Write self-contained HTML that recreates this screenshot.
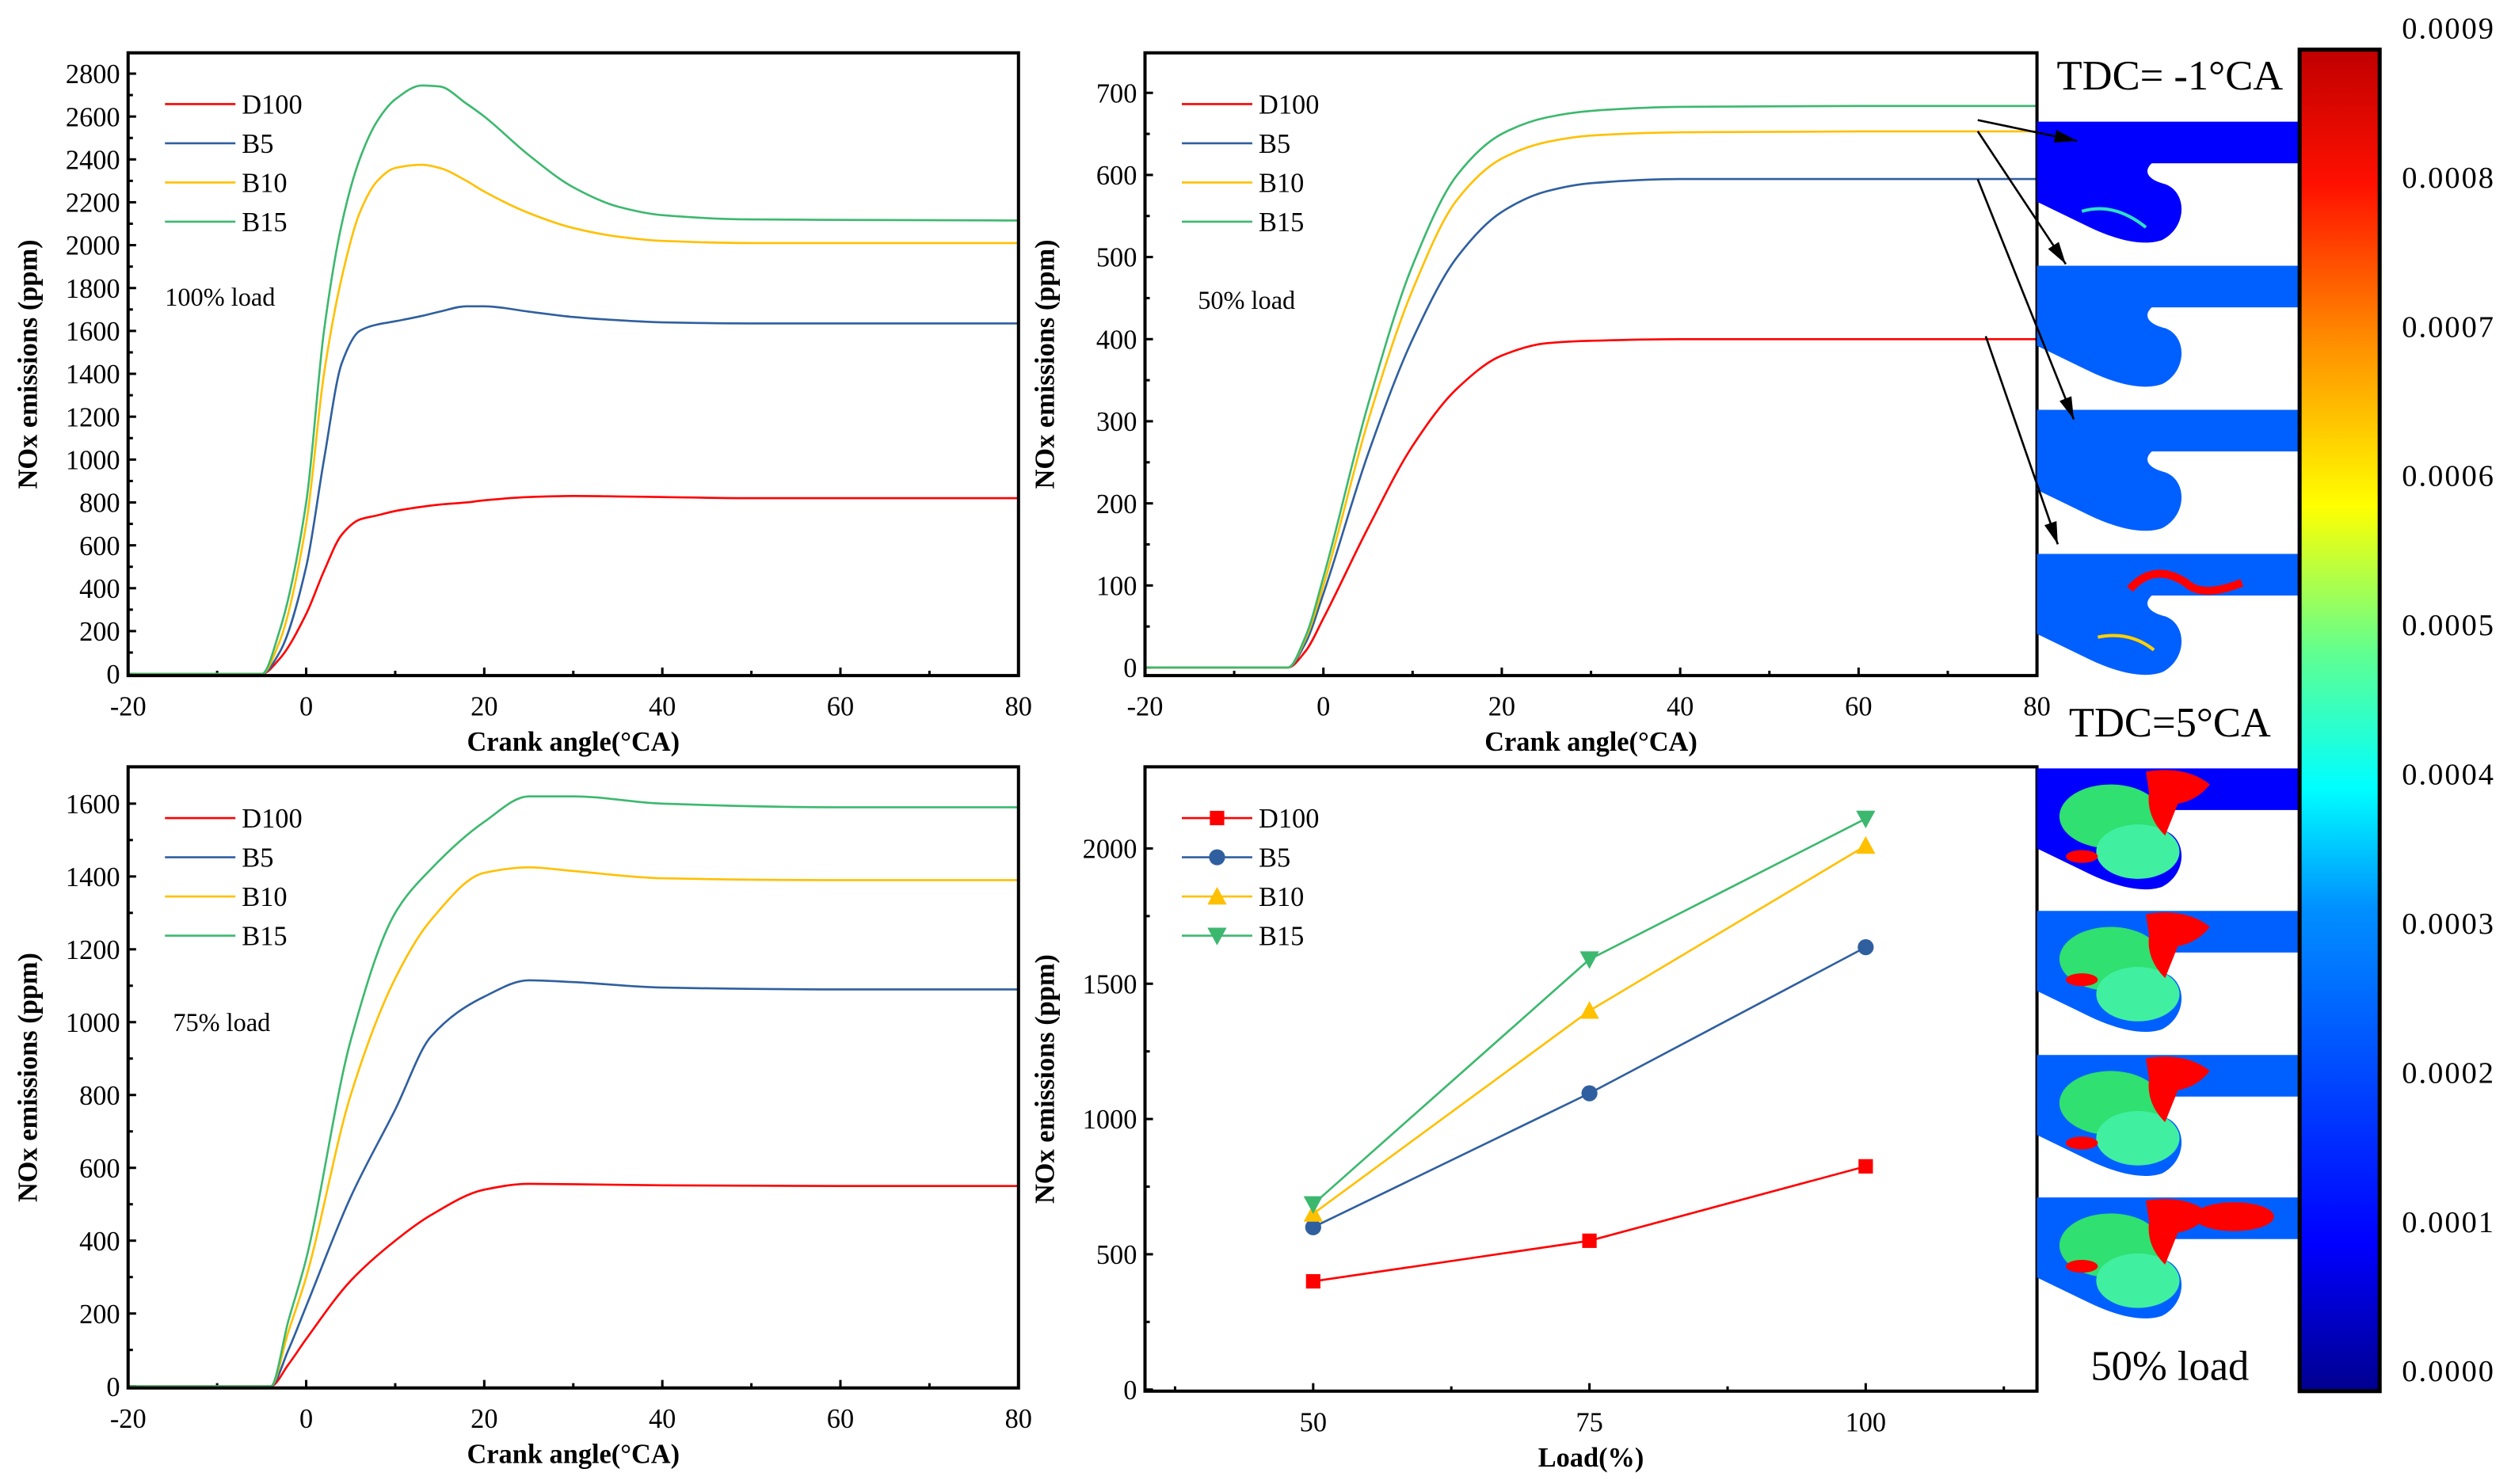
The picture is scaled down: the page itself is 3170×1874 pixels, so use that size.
<!DOCTYPE html>
<html><head><meta charset="utf-8"><style>
html,body{margin:0;padding:0;background:#fff;}
svg{display:block;font-family:"Liberation Serif",serif;}
</style></head><body>
<svg id="fig" width="3170" height="1874" viewBox="0 0 1568 927" preserveAspectRatio="none" xmlns="http://www.w3.org/2000/svg">
<defs>
<linearGradient id="jet" x1="0" y1="1" x2="0" y2="0">
<stop offset="0" stop-color="#00008f"/><stop offset="0.11" stop-color="#0000ff"/><stop offset="0.36" stop-color="#0090ff"/><stop offset="0.45" stop-color="#00ffff"/><stop offset="0.55" stop-color="#60ff90"/><stop offset="0.66" stop-color="#ffff00"/><stop offset="0.78" stop-color="#ff9000"/><stop offset="0.9" stop-color="#ff1000"/><stop offset="1" stop-color="#c00000"/>
</linearGradient>
</defs>
</svg>
<script>
const NS="http://www.w3.org/2000/svg";
const svg=document.getElementById('fig');
const seriesNames=["D100","B5","B10","B15"];
const seriesColors=["#ff0000","#2f5f9f","#ffc000","#3cb86e"];
// Plot A: 100% load
const aX=[-20,-5,-3,0,2,4,6,8,10,13,15,18,20,25,30,35,40,50,60,80];
const aD100=[0,0,70,280,480,650,720,740,760,780,790,800,810,825,830,828,825,820,820,820];
const aB5=[0,0,100,500,1000,1450,1600,1630,1645,1670,1690,1715,1715,1690,1665,1650,1640,1635,1635,1635];
const aB10=[0,0,150,700,1400,1850,2150,2300,2360,2375,2360,2300,2250,2150,2080,2040,2020,2010,2010,2010];
const aB15=[0,0,200,800,1600,2100,2400,2580,2680,2745,2740,2660,2600,2420,2270,2180,2140,2120,2118,2115];
// Plot B: 50% load
const bX=[-20,-4,-2,0,5,10,15,20,25,30,40,60,80];
const bD100=[0,0,20,60,170,270,340,380,395,398,400,400,400];
const bB5=[0,0,30,90,260,400,500,555,580,590,595,595,595];
const bB10=[0,0,35,100,300,460,570,620,640,648,652,653,653];
const bB15=[0,0,38,110,320,490,600,650,670,678,683,684,684];
// Plot C: 75% load
const cX=[-20,-4,-2,0,5,10,14,20,25,30,40,60,80];
const cD100=[0,0,60,130,290,400,470,540,556,555,552,550,550];
const cB5=[0,0,100,220,520,760,960,1070,1115,1110,1095,1090,1090];
const cB10=[0,0,150,300,800,1120,1280,1410,1425,1415,1395,1390,1390];
const cB15=[0,0,180,350,950,1300,1420,1550,1620,1620,1600,1590,1590];
// Plot D: load summary
const dLoads=[50,75,100];
const dD100=[400,550,825];
const dB5=[600,1095,1635];
const dB10=[650,1400,2010];
const dB15=[685,1590,2110];
const dYTicks=[0,500,1000,1500,2000];

function el(tag,attrs,parent){const e=document.createElementNS(NS,tag);for(const k in attrs)e.setAttribute(k,attrs[k]);(parent||svg).appendChild(e);return e;}
function txt(s,attrs,parent){const t=el('text',attrs,parent);t.textContent=s;return t;}
function lin(d0,d1,r0,r1){return v=>r0+(v-d0)*(r1-r0)/(d1-d0);}
// monotone cubic (Fritsch-Carlson) in pixel space
function smooth(pts){
  const n=pts.length,dx=[],m=[],t=[];
  for(let i=0;i<n-1;i++){dx[i]=pts[i+1][0]-pts[i][0];m[i]=(pts[i+1][1]-pts[i][1])/dx[i];}
  t[0]=m[0];t[n-1]=m[n-2];
  for(let i=1;i<n-1;i++){ if(m[i-1]*m[i]<=0) t[i]=0; else {const w1=2*dx[i]+dx[i-1],w2=dx[i]+2*dx[i-1];t[i]=(w1+w2)/(w1/m[i-1]+w2/m[i]);} }
  let d="M"+pts[0][0]+","+pts[0][1];
  for(let i=0;i<n-1;i++){const h=dx[i]/3;
    d+=" C"+(pts[i][0]+h)+","+(pts[i][1]+t[i]*h)+" "+(pts[i+1][0]-h)+","+(pts[i+1][1]-t[i+1]*h)+" "+pts[i+1][0]+","+pts[i+1][1];}
  return d;
}

function panel(o){
  const g=el('g',{});
  
  
  const sx=lin(o.xd[0],o.xd[1],o.L,o.R), sy=lin(0,o.ys[0],o.y0,o.ys[1]);
  o.yt.forEach(v=>{const y=sy(v);el('line',{x1:o.L,x2:o.L+5,y1:y,y2:y,stroke:'#000','stroke-width':1.5},g);
    const t=txt(String(v),{x:o.L-5,y:y+6,'text-anchor':'end','font-size':17},g);
    });
  o.ymin.forEach(v=>{const y=sy(v);el('line',{x1:o.L,x2:o.L+3,y1:y,y2:y,stroke:'#000','stroke-width':1.5},g);});
  o.xt.forEach((v,i)=>{const x=sx(v);el('line',{x1:x,x2:x,y1:o.B,y2:o.B-5,stroke:'#000','stroke-width':1.5},g);
    const t=txt(String(v),{x:x,y:o.B+25,'text-anchor':'middle','font-size':17},g);
    });
  o.xmin.forEach(v=>{const x=sx(v);el('line',{x1:x,x2:x,y1:o.B,y2:o.B-3,stroke:'#000','stroke-width':1.5},g);});
  const xt=txt(o.xtitle,{x:(o.L+o.R)/2,y:o.B+47,'text-anchor':'middle','font-size':17,'font-weight':'bold'},g);
  
  const yc=(o.T+o.B)/2;
  const yt=txt('NOx emissions (ppm)',{x:o.L-57,y:yc,'text-anchor':'middle','font-size':17,'font-weight':'bold',transform:'rotate(-90 '+(o.L-57)+' '+yc+')'},g);
  
  o.series.forEach((ys,si)=>{
    const pts=o.xs.map((x,i)=>[sx(x),sy(ys[i])]);
    const p=el('path',{d:o.markers?("M"+pts.map(p=>p.join(',')).join(' L')):smooth(pts),fill:'none',stroke:seriesColors[si],'stroke-width':1.3},g);
    
    
    if(o.markers) pts.forEach(pt=>{const m=marker(si,pt[0],pt[1],g);});
    const ly=o.T+32+si*24.5;
    el('line',{x1:o.L+23,x2:o.L+67,y1:ly,y2:ly,stroke:seriesColors[si],'stroke-width':1.3},g);
    if(o.markers) marker(si,o.L+45,ly,g);
    const lt=txt(seriesNames[si],{x:o.L+71,y:ly+6,'font-size':17},g);
    
  });
  if(o.note){const n=txt(o.note[0],{x:o.note[1],y:o.note[2],'font-size':16},g);}
  const fr=el('rect',{x:o.L,y:o.T,width:o.R-o.L,height:o.B-o.T,fill:'none',stroke:'#000','stroke-width':2},g);
  
}
function marker(si,x,y,g){
  const c=seriesColors[si];
  if(si==0) return el('rect',{x:x-4.5,y:y-4.5,width:9,height:9,fill:c},g);
  if(si==1) return el('circle',{cx:x,cy:y,r:5,fill:c},g);
  if(si==2) return el('polygon',{points:(x-6)+','+(y+5)+' '+(x+6)+','+(y+5)+' '+x+','+(y-6),fill:c},g);
  return el('polygon',{points:(x-6)+','+(y-5)+' '+(x+6)+','+(y-5)+' '+x+','+(y+6),fill:c},g);
}
const xT=[-20,0,20,40,60,80], xM=[-10,10,30,50,70];
function rng(a,b,s){const r=[];for(let v=a;v<=b+1e-9;v+=s)r.push(v);return r;}
panel({name:'plot-100-load',L:80,R:636,T:33,B:422,y0:421,xd:[-20,80],ys:[2800,46],xs:aX,series:[aD100,aB5,aB10,aB15],
  yt:rng(0,2800,200),ymin:rng(100,2700,200),xt:xT,xmin:xM,xtitle:'Crank angle(°CA)',note:['100% load',103,191]});
panel({name:'plot-50-load',L:715,R:1272,T:33,B:422,y0:417,xd:[-20,80],ys:[700,58],xs:bX,series:[bD100,bB5,bB10,bB15],
  yt:rng(0,700,100),ymin:rng(50,650,100),xt:xT,xmin:xM,xtitle:'Crank angle(°CA)',note:['50% load',748,193]});
panel({name:'plot-75-load',L:80,R:636,T:479,B:867,y0:866,xd:[-20,80],ys:[1600,502],xs:cX,series:[cD100,cB5,cB10,cB15],
  yt:rng(0,1600,200),ymin:rng(100,1500,200),xt:xT,xmin:xM,xtitle:'Crank angle(°CA)',note:['75% load',108,644]});
panel({name:'plot-load-summary',L:715,R:1272,T:479,B:869,y0:868,xd:[34.78,115.5],ys:[2000,530],xs:dLoads,series:[dD100,dB5,dB10,dB15],markers:true,
  yt:dYTicks,ymin:[250,750,1250,1750],xt:dLoads,xmin:[37.5,62.5,87.5,112.5],xtitle:'Load(%)'});
</script>
<script>
const panelTops=[76,166,256,346,480,569,659,748];
const panelFill=["#0000ff","#0060ff","#0060ff","#0060ff","#0000ff","#0060ff","#0060ff","#0060ff"];
const cg=el('g',{});


panelTops.forEach((T,i)=>{
  const g=el('g',{},cg);
  
  
  const f=panelFill[i];
  el('rect',{x:1272,y:T,width:163,height:26,fill:f},g);
  el('path',{d:`M1272,${T+25} L1345,${T+25} C1338,${T+30} 1340,${T+36} 1352,${T+39} C1366,${T+44} 1366,${T+66} 1350,${T+74} C1338,${T+78} 1322,${T+74} 1305,${T+66} L1272,${T+50} Z`,fill:f},g);
  if(i==0){el('path',{d:`M1300,${T+56} Q1320,${T+50} 1340,${T+66}`,stroke:'#30e0c0','stroke-width':2,fill:'none'},g);}
  if(i==3){el('path',{d:`M1330,${T+22} Q1345,${T+5} 1365,${T+18} Q1375,${T+28} 1400,${T+18}`,stroke:'#ff0000','stroke-width':5,fill:'none'},g);
           el('path',{d:`M1310,${T+52} Q1330,${T+48} 1345,${T+60}`,stroke:'#ffd000','stroke-width':2,fill:'none'},g);}
  if(i>=4){
    el('ellipse',{cx:1318,cy:T+30,rx:32,ry:20,fill:'#30e070'},g);
    el('ellipse',{cx:1335,cy:T+52,rx:26,ry:17,fill:'#40f0a0'},g);
    el('path',{d:`M1340,${T+2} Q1365,${T-2} 1380,${T+10} Q1372,${T+20} 1360,${T+22} L1352,${T+42} Q1340,${T+30} 1342,${T+15} Z`,fill:'#ff0000'},g);
    el('ellipse',{cx:1300,cy:T+55-i%2*12,rx:10,ry:4,fill:'#ff0000'},g);
    if(i==7) el('ellipse',{cx:1395,cy:T+12,rx:25,ry:9,fill:'#ff0000'},g);
  }
});
const arrows=[[1235,75,1297,88],[1235,82,1290,165],[1235,112,1295,262],[1240,210,1285,340]];
arrows.forEach(a=>{
  const g=el('g',{});
  
  
  el('line',{x1:a[0],y1:a[1],x2:a[2],y2:a[3],stroke:'#000','stroke-width':1.3},g);
  const ang=Math.atan2(a[3]-a[1],a[2]-a[0]),L=14,W=4;
  const bx=a[2]-L*Math.cos(ang),by=a[3]-L*Math.sin(ang);
  el('polygon',{points:`${a[2]},${a[3]} ${bx-W*Math.sin(ang)},${by+W*Math.cos(ang)} ${bx+W*Math.sin(ang)},${by-W*Math.cos(ang)}`,fill:'#000'},g);
});
[['TDC= -1°CA',1355,56,'tdc-early-label'],['TDC=5°CA',1355,460,'tdc-late-label'],['50% load',1355,862,'snapshot-load-label']].forEach(s=>{
  const t=txt(s[0],{x:s[1],y:s[2],'text-anchor':'middle','font-size':26});
  
});
const cb=el('rect',{x:1436,y:31,width:50,height:838,fill:'url(#jet)',stroke:'#000','stroke-width':2.5});


const cbTicks=["0.0009","0.0008","0.0007","0.0006","0.0005","0.0004","0.0003","0.0002","0.0001","0.0000"];
cbTicks.forEach((s,i)=>{
  const t=txt(s,{x:1529,y:24+i*93.2,'text-anchor':'middle','font-size':19,'letter-spacing':'1'});
  
});
</script>
</body></html>
